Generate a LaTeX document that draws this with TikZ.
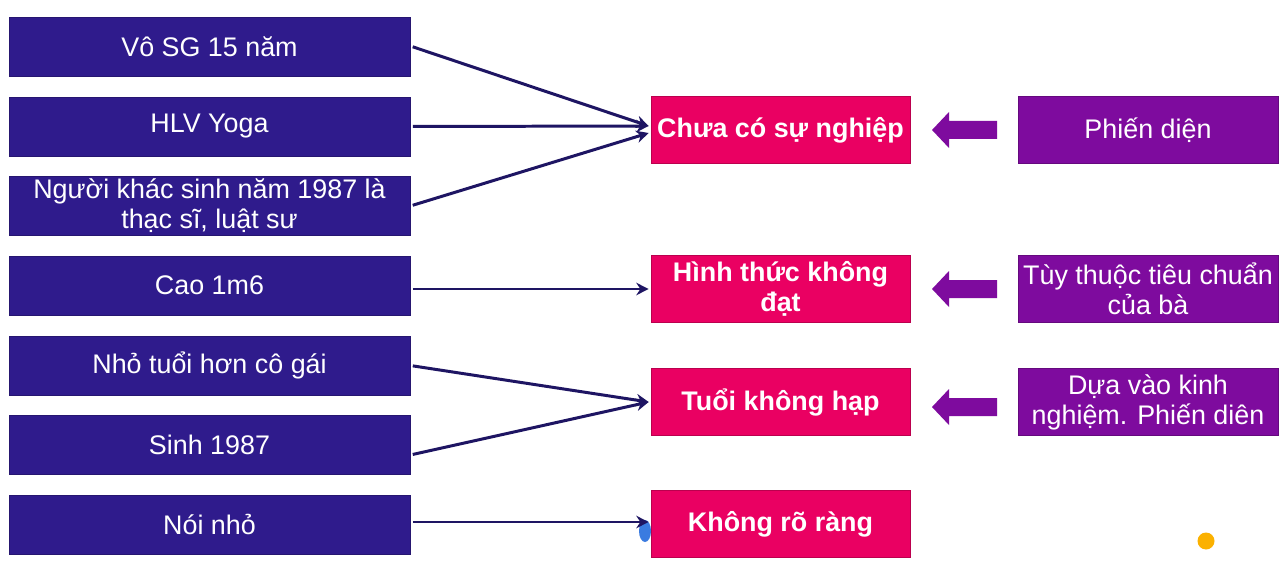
\documentclass[tikz,border=0pt]{standalone}
\usepackage{fontspec}
\setmainfont{Liberation Sans}
\usetikzlibrary{arrows.meta}
\definecolor{leftc}{HTML}{2F1B8C}
\definecolor{pinkc}{HTML}{EA0062}
\definecolor{purpc}{HTML}{7E0B9E}
\definecolor{arrc}{HTML}{1E1563}
\definecolor{dotc}{HTML}{FBB100}
\definecolor{bluec}{HTML}{3A7BE0}
\tikzset{
  boxfont/.style={font=\fontsize{15.3}{17}\selectfont},
  leftbox/.style={boxfont, fill=leftc, draw=leftc!80!black, line width=0.4pt, minimum width=8.02cm, minimum height=1.18cm, text=white, align=center, inner sep=0pt},
  pinkbox/.style={font=\fontsize{15.3}{17}\selectfont\bfseries, fill=pinkc, draw=pinkc!80!black, line width=0.4pt, minimum width=5.18cm, minimum height=1.34cm, text=white, align=center, inner sep=0pt},
  purpbox/.style={boxfont, fill=purpc, draw=purpc!80!black, line width=0.4pt, minimum width=5.2cm, minimum height=1.34cm, text=white, align=center, inner sep=0pt},
  thin/.style={draw=arrc, line width=1.7pt, shorten <=0.05cm, -{Stealth[length=7pt,width=7pt]}},
  fatarrow/.pic={\fill[purpc] (-32.5,0) -- (-15.5,-18) -- (-15.5,-9) -- (32.5,-9) -- (32.5,9) -- (-15.5,9) -- (-15.5,18) -- cycle;}
}
\begin{document}
\begin{tikzpicture}[x=0.02cm,y=-0.02cm]
\useasboundingbox (0,0) rectangle (1287,564);
\fill[white] (0,0) rectangle (1287,564);
\fill[bluec] (645,531) ellipse (6 and 11);
\node[leftbox] (l1) at (209.5,46.5) {Vô SG 15 năm};
\node[leftbox] (l2) at (209.5,126.5) {HLV Yoga};
\node[leftbox] (l3) at (209.5,206) {Người khác sinh năm 1987 là\\thạc sĩ, luật sư};
\node[leftbox] (l4) at (209.5,285.5) {Cao 1m6};
\node[leftbox] (l5) at (209.5,365.5) {Nhỏ tuổi hơn cô gái};
\node[leftbox] (l6) at (209.5,444.5) {Sinh 1987};
\node[leftbox] (l7) at (209.5,524.5) {Nói nhỏ};
\node[pinkbox] (p1) at (780.5,130) {Chưa có sự nghiệp};
\node[pinkbox] (p2) at (780.5,289) {Hình thức không\\đạt};
\node[pinkbox] (p3) at (780.5,402) {Tuổi không hạp};
\node[pinkbox] (p4) at (780.5,524) {Không rõ ràng};
\node[purpbox] (r1) at (1148,130) {Phiến diện};
\node[purpbox] (r2) at (1148,289) {Tùy thuộc tiêu chuẩn\\của bà};
\node[purpbox] (r3) at (1148,402) {Dựa vào kinh\\nghiệm. Phiến diên};
\coordinate (t1) at ([xshift=-0.04cm]p1.west |- 0,126);
\coordinate (t1b) at ([xshift=-0.04cm]p1.west |- 0,133);
\draw[thin] (l1.east |- 0,46) -- (t1);
\draw[thin] (l2.east) -- (t1);
\draw[thin] (l3.east) -- (t1b);
\draw[thin] (l4.east |- p2.west) -- ([xshift=-0.04cm]p2.west);
\draw[thin] (l5.east) -- ([xshift=-0.04cm]p3.west);
\draw[thin] (l6.east |- 0,455) -- ([xshift=-0.04cm]p3.west);
\draw[thin] (l7.east |- 0,522) -- ([xshift=-0.04cm]p4.west |- 0,522);
\pic at (964.5,130) {fatarrow};
\pic at (964.5,289) {fatarrow};
\pic at (964.5,407) {fatarrow};
\fill[dotc] (1206,541) circle (8.5);
\end{tikzpicture}
\end{document}
